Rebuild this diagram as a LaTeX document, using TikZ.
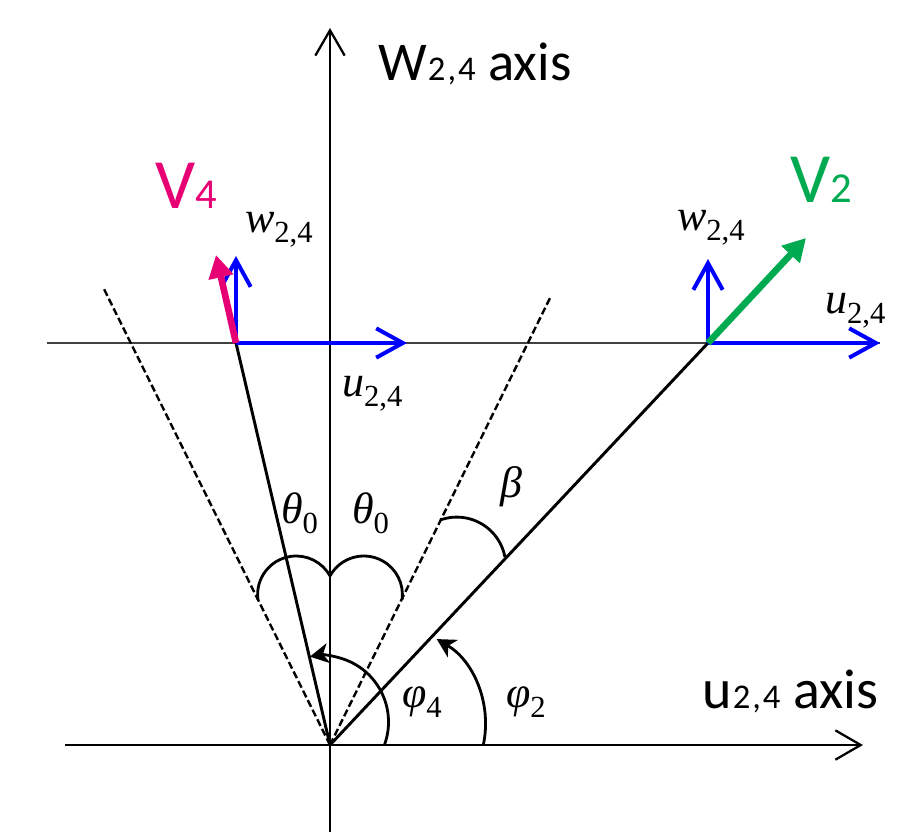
\documentclass[tikz,border=0pt]{standalone}
\usepackage{fontspec}
\setmainfont{Liberation Serif}
\newfontfamily\cali{Carlito}
\usetikzlibrary{arrows.meta}
\definecolor{vmag}{RGB}{230,0,115}
\definecolor{vgreen}{RGB}{0,170,80}
\definecolor{vblue}{RGB}{0,0,255}
\newcommand{\tsub}[2]{{\fontsize{33}{33}\selectfont\itshape #1}\raisebox{-8pt}{\fontsize{23}{23}\selectfont #2}}
\newcommand{\csub}[4]{{\fontsize{#1}{#1}\selectfont #3}{\fontsize{#2}{#2}\selectfont #4}}
\newcommand{\ctwofour}{\kern1pt 2\kern1.5pt,\kern1.5pt 4}
\begin{document}
\begin{tikzpicture}[x=0.75pt,y=-0.75pt,
  axisline/.style={line width=1.7pt,-{Straight Barb[length=19pt,width=22pt]}},
  mainline/.style={line width=2.2pt},
  thinline/.style={line width=0.8pt,black!75},
  dashline/.style={line width=1.8pt,dash pattern=on 5.5pt off 2.5pt},
  bluearrow/.style={line width=3pt,vblue,-{Straight Barb[length=20pt,width=22pt]}},
  vecarrow/.style={line width=5pt,-{Triangle[length=17pt,width=18pt]}},
  anglearc/.style={line width=2.1pt},
  anglearrow/.style={line width=2.1pt,-{Stealth[length=14pt,width=15pt,inset=4pt]}},
  lbl/.style={anchor=base west,inner sep=0pt,outer sep=0pt}]
\useasboundingbox (0,0) rectangle (910,839);
% key points
\coordinate (O) at (330,745);
\coordinate (Xl) at (65,745);
\coordinate (Xr) at (863,745);
\coordinate (Yb) at (330,832);
\coordinate (Yt) at (330,28);
\coordinate (Hl) at (47,343);
\coordinate (Hr) at (880,343);
\coordinate (P4) at (236,343);
\coordinate (P2) at (708,343);
\coordinate (DL) at (103,287);
\coordinate (DR) at (551,296);
\coordinate (U4) at (407,343);
\coordinate (W4) at (236,256);
\coordinate (U2) at (880,343);
\coordinate (W2) at (708,259);
\coordinate (V4t) at (216,255);
\coordinate (V2t) at (806,238);
% thin line and axes
\draw[thinline] (Hl) -- (Hr);
\draw[axisline] (Xl) -- (Xr);
\draw[axisline] (Yb) -- (Yt);
% dashed cone
\draw[dashline] (O) -- (DL);
\draw[dashline] (O) -- (DR);
% main lines
\draw[mainline] (O) -- (P4);
\draw[mainline] (O) -- (P2);
% local frames
\draw[bluearrow] (P4) -- (U4);
\draw[bluearrow] (P4) -- (W4);
\draw[bluearrow] (P2) -- (U2);
\draw[bluearrow] (P2) -- (W2);
% velocity vectors
\draw[vecarrow,vmag] (P4) -- (V4t);
\draw[vecarrow,vgreen] (P2) -- (V2t);
% theta0 arcs
\draw[anglearc] (296.2,594.6) ++(172:38.6) arc[start angle=172,end angle=331.2,radius=38.6];
\draw[anglearc] (363.8,594.6) ++(208.8:38.6) arc[start angle=208.8,end angle=368,radius=38.6];
% beta arc
\draw[anglearc] (456.8,566.1) ++(250:49) arc[start angle=250,end angle=349.3,radius=49];
% phi arcs
\draw[anglearrow] (322,722) ++(20.3:66.5) arc[start angle=20.3,end angle=-100.5,radius=66.5];
\draw[anglearrow] (386.7,724.3) ++(12.1:98.8) arc[start angle=12.1,end angle=-59.6,radius=98.8];
% labels
\node[lbl] (wlab) at (378,80) {\cali\csub{41}{26}{W}{\ctwofour}\fontsize{41}{41}\selectfont{} axis};
\node[lbl] (ulab) at (702,708) {\cali\csub{42}{26}{u}{\ctwofour}\fontsize{42}{42}\selectfont{} axis};
\node[lbl,text=vmag] (v4lab) at (155,208) {\cali\csub{53}{32}{V}{4}};
\node[lbl,text=vgreen] (v2lab) at (790,202) {\cali\csub{53}{32}{V}{2}};
\node[lbl] (wl) at (245,232) {\tsub{w}{2,4}};
\node[lbl] (wr) at (677,230) {\tsub{w}{2,4}};
\node[lbl] (ur) at (825,313) {\tsub{u}{2,4}};
\node[lbl] (um) at (342,396) {\tsub{u}{2,4}};
\node[lbl] (th1) at (281,523) {\tsub{θ}{0}};
\node[lbl] (th2) at (352,523) {\tsub{θ}{0}};
\node[lbl] (be) at (500,497) {{\fontsize{33}{33}\selectfont\itshape β}};
\node[lbl] (ph4) at (402,707) {\tsub{φ}{4}};
\node[lbl] (ph2) at (506,707) {\tsub{φ}{2}};
\end{tikzpicture}
\end{document}
